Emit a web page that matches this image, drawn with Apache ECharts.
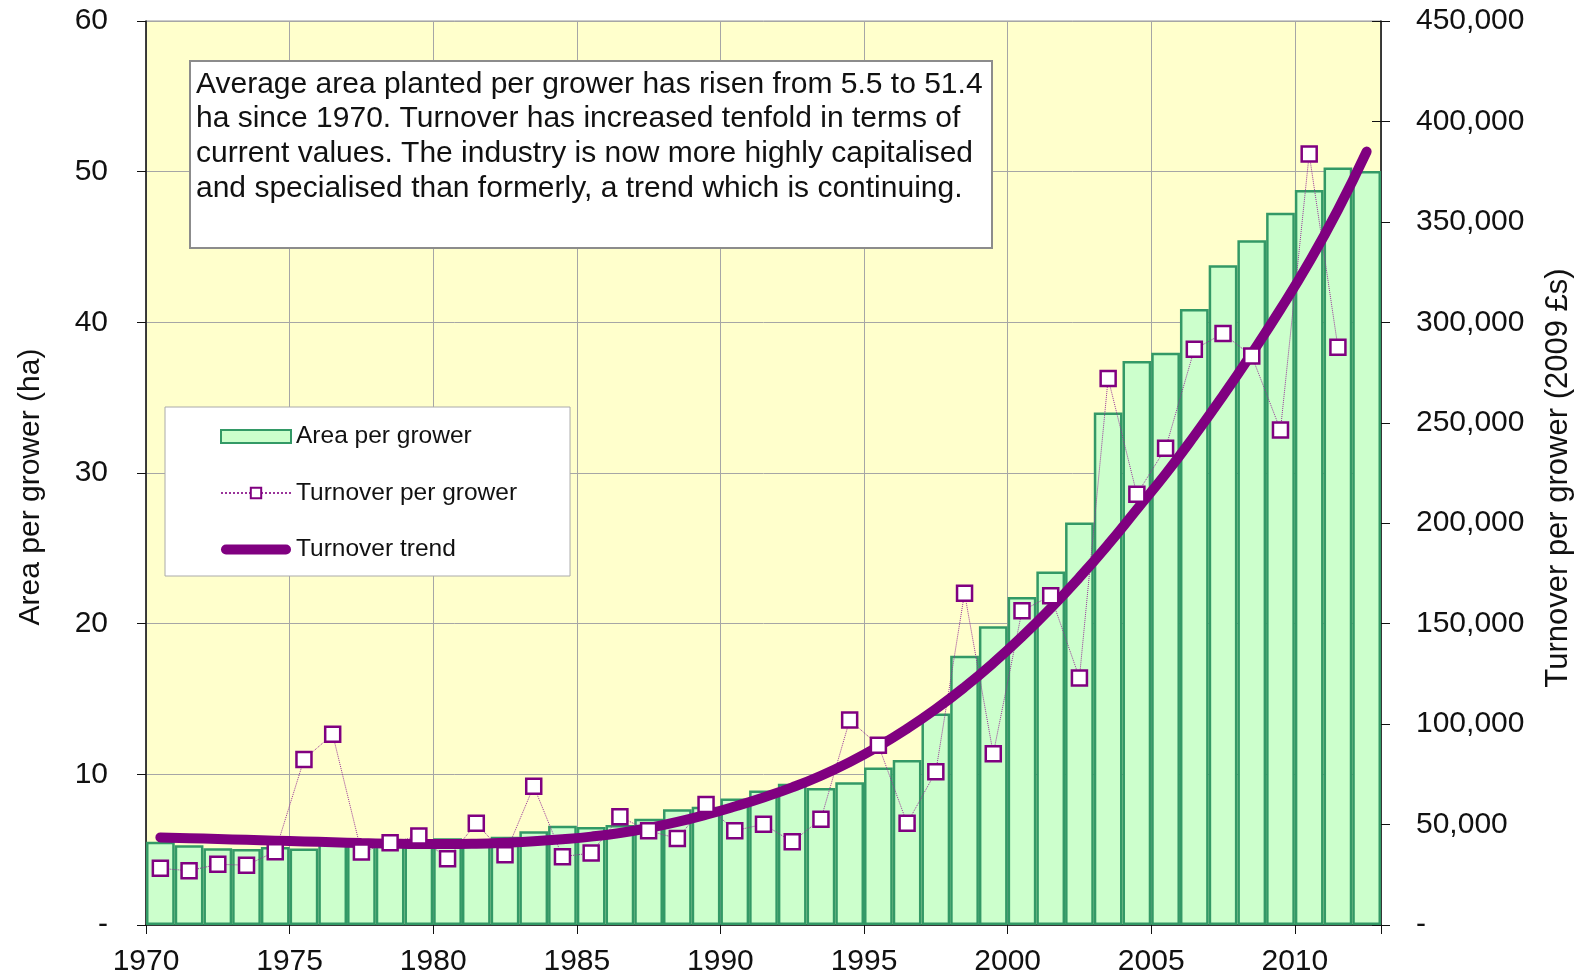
<!DOCTYPE html>
<html>
<head>
<meta charset="utf-8">
<script src="https://cdn.jsdelivr.net/npm/echarts@6/dist/echarts.min.js"></script>
<style>
  html, body { margin: 0; padding: 0; background: #fff; }
  #chart { width: 1582px; height: 979px; }
</style>
</head>
<body>
<div id="chart"></div>
<script>
var fontsty = 'Liberation Sans, Arial, sans-serif';

// years 1970..2012
var years = [1970, 1971, 1972, 1973, 1974, 1975, 1976, 1977, 1978, 1979,
  1980, 1981, 1982, 1983, 1984, 1985, 1986, 1987, 1988, 1989,
  1990, 1991, 1992, 1993, 1994, 1995, 1996, 1997, 1998, 1999,
  2000, 2001, 2002, 2003, 2004, 2005, 2006, 2007, 2008, 2009,
  2010, 2011, 2012];

// area per grower (ha), one per year
var area = [5.52, 5.30, 5.10, 5.04, 5.17, 5.08, 5.45, 5.63, 5.60, 5.62,
  5.75, 5.65, 5.86, 6.23, 6.59, 6.50, 6.64, 7.05, 7.69, 7.85,
  8.40, 8.92, 9.38, 9.09, 9.47, 10.45, 10.95, 14.04, 17.87, 19.83,
  21.77, 23.47, 26.72, 34.02, 37.44, 37.98, 40.89, 43.79, 45.45, 47.28,
  48.78, 50.27, 50.04];

// turnover per grower (2009 £s), 1970..2011
var turnover = [28200, 27000, 30200, 29800, 36500, 82400, 94900, 36300, 40900, 44300,
  33000, 50600, 35000, 69100, 34000, 35800, 53900, 46900, 43100, 60000,
  46900, 50200, 41400, 52700, 102000, 89500, 50600, 76300, 165200, 85200,
  156400, 163900, 123000, 272100, 214400, 237300, 286600, 294400, 283300, 246400,
  383800, 287600];

// turnover trend, 1970..2012
var trend = [43600, 43200, 42800, 42400, 42000, 41600, 41200, 40800, 40500, 40300,
  40300, 40500, 41000, 41700, 42700, 44000, 45800, 48300, 51300, 54900,
  59000, 63500, 68500, 74300, 81100, 88900, 97700, 107500, 118400, 130400,
  143500, 157700, 173000, 189400, 206900, 224500, 243500, 263500, 284500, 306500,
  330000, 356000, 385000];

var note = 'Average area planted per grower has risen from 5.5 to 51.4\n' +
  'ha since 1970. Turnover has increased tenfold in terms of\n' +
  'current values. The industry is now more highly capitalised\n' +
  'and specialised than formerly, a trend which is continuing.';

function pair(arr) {
  var out = [];
  for (var i = 0; i < arr.length; i++) {
    out.push([years[i] + 0.5, arr[i]]);
  }
  return out;
}

function thousands(v) {
  if (v === 0) return '-';
  return String(v).replace(/\B(?=(\d{3})+(?!\d))/g, ',');
}

var myChart = echarts.init(document.getElementById('chart'));

var option = {
  backgroundColor: '#ffffff',
  animation: false,
  textStyle: { fontFamily: fontsty },
  grid: {
    left: 146, right: 200, top: 21, bottom: 54,
    show: true,
    backgroundColor: '#FFFFCC',
    borderColor: '#999999',
    borderWidth: 1
  },
  legend: {
    left: 165,
    top: 407,
    orient: 'vertical',
    padding: [17, 53, 14, 55],
    itemGap: 31.5,
    itemWidth: 70,
    itemHeight: 13,
    backgroundColor: '#ffffff',
    borderColor: '#aaaaaa',
    borderWidth: 1,
    textStyle: { fontSize: 24.5, color: '#111', fontFamily: fontsty },
    data: [
      { name: 'Area per grower', icon: 'rect' },
      { name: 'Turnover per grower' },
      {
        name: 'Turnover trend',
        icon: 'path://M0,0 M0,13 M5,1.5 L65,1.5 A5,5 0 0 1 65,11.5 L5,11.5 A5,5 0 0 1 5,1.5 Z',
        itemStyle: { color: '#800080', borderWidth: 0 }
      }
    ]
  },
  xAxis: {
    type: 'value',
    min: 1970,
    max: 2013,
    interval: 5,
    axisLine: { lineStyle: { color: '#111', width: 1.5 } },
    axisTick: { length: 9, lineStyle: { color: '#111' } },
    splitLine: { show: true, lineStyle: { color: '#A6A6A6', width: 1 } },
    axisLabel: {
      margin: 22,
      fontSize: 30,
      color: '#111',
      fontFamily: fontsty,
      formatter: function (v) { return v % 5 === 0 ? String(v) : ''; }
    }
  },
  yAxis: [
    {
      type: 'value',
      position: 'left',
      min: 0,
      max: 60,
      interval: 10,
      name: 'Area per grower (ha)',
      nameLocation: 'middle',
      nameGap: 100,
      nameTextStyle: { fontSize: 30, color: '#111', fontFamily: fontsty, padding: [0, 28, 0, 0] },
      axisLine: { show: true, lineStyle: { color: '#111', width: 1.5 } },
      axisTick: { show: true, length: 9, lineStyle: { color: '#111' } },
      splitLine: { show: true, lineStyle: { color: '#A6A6A6', width: 1 } },
      axisLabel: {
        margin: 38,
        fontSize: 30,
        color: '#111',
        fontFamily: fontsty,
        formatter: function (v) { return v === 0 ? '-' : String(v); }
      }
    },
    {
      type: 'value',
      position: 'right',
      min: 0,
      max: 450000,
      interval: 50000,
      name: 'Turnover per grower (2009 £s)',
      nameLocation: 'middle',
      nameGap: 162,
      nameTextStyle: { fontSize: 31, color: '#111', fontFamily: fontsty, padding: [0, 10, 0, 0] },
      axisLine: { show: true, lineStyle: { color: '#111', width: 1.5 } },
      axisTick: { show: true, length: 9, lineStyle: { color: '#111' } },
      splitLine: { show: false },
      axisLabel: {
        margin: 35,
        fontSize: 30,
        color: '#111',
        fontFamily: fontsty,
        formatter: thousands
      }
    },
    {
      // inner half of the crossing ticks on the right axis
      type: 'value',
      position: 'right',
      min: 0,
      max: 450000,
      interval: 50000,
      axisLine: { show: false },
      axisTick: { show: true, inside: true, length: 9, lineStyle: { color: '#111' } },
      splitLine: { show: false },
      axisLabel: { show: false }
    }
  ],
  series: [
    {
      name: 'Area per grower',
      type: 'bar',
      xAxisIndex: 0,
      yAxisIndex: 0,
      barWidth: '100%',
      itemStyle: { color: '#CCFFCC', borderColor: '#339966', borderWidth: 2.5 },
      data: pair(area)
    },
    {
      name: 'Turnover per grower',
      type: 'line',
      yAxisIndex: 1,
      symbol: 'rect',
      symbolSize: 15,
      showAllSymbol: true,
      itemStyle: { color: '#ffffff', borderColor: '#800080', borderWidth: 2.5 },
      lineStyle: { color: '#993399', width: 1, type: 'dotted' },
      data: pair(turnover)
    },
    {
      name: 'Turnover trend',
      type: 'line',
      yAxisIndex: 1,
      smooth: true,
      symbol: 'none',
      lineStyle: { color: '#800080', width: 10, cap: 'round' },
      itemStyle: { color: '#800080' },
      data: pair(trend)
    }
  ],
  graphic: [
    {
      type: 'group',
      left: 189,
      top: 60,
      z: 100,
      children: [
        {
          type: 'rect',
          z: 100,
          shape: { x: 0, y: 0, width: 802, height: 187 },
          style: { fill: '#ffffff', stroke: '#8c8c8c', lineWidth: 2 }
        },
        {
          type: 'text',
          z: 101,
          x: 6,
          y: 6,
          style: {
            text: note,
            font: '30px ' + fontsty,
            lineHeight: 34.8,
            fill: '#111'
          }
        }
      ]
    }
  ]
};

myChart.setOption(option);
</script>
</body>
</html>
